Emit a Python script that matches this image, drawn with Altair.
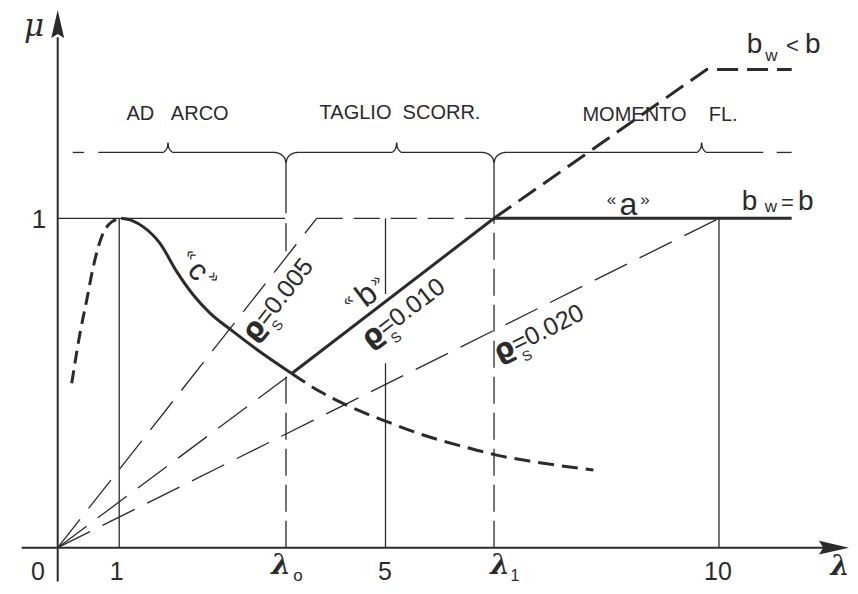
import altair as alt
import numpy as np
import pandas as pd

INK = "#2b2b2b"
SANS = "Liberation Sans"
NB = "\u00a0"

W, H = 842, 578
LAM_DOMAIN = [-0.7516, 11.981]
MU_DOMAIN = [-0.1163, 1.6385]

# ---------------- key abscissae (lambda)
lam_one = 0.93
lam_0 = 3.452
lam_5 = 4.957
lam_1 = 6.598
lam_10 = 10.0
lam_end = 11.099

# ---------------- curve «c»
c_rise_lam = [0.212, 0.337, 0.439, 0.538, 0.665, 0.817, 0.96]
c_rise_mu = [0.499, 0.651, 0.752, 0.853, 0.944, 0.989, 1.0]
c_main_lam = [0.96, 1.124, 1.294, 1.547, 1.800, 2.051, 2.303, 2.655, 3.059, 3.539]
c_main_mu = [1.0, 0.993, 0.974, 0.924, 0.838, 0.767, 0.712, 0.656, 0.595, 0.529]
c_tail_lam = [3.539, 3.966, 4.420, 4.975, 5.529, 6.133, 6.638, 7.192, 8.100]
c_tail_mu = [0.529, 0.474, 0.428, 0.383, 0.342, 0.307, 0.281, 0.261, 0.236]

# ---------------- straight lines
rho005_lam = [0.0, 3.917]
rho005_mu = [0.0, 1.0]
plateau005_lam = [3.917, lam_1]
plateau005_mu = [1.0, 1.0]
rho010_lam = [0.0, 3.539]
rho010_mu = [0.0, 0.529]
b_lam = [3.539, lam_1]
b_mu = [0.529, 1.0]
bw_lam = [lam_1, 9.814, lam_end]
bw_mu = [1.0, 1.452, 1.452]
a_lam = [lam_1, lam_end]
a_mu = [1.0, 1.0]
rho020_lam = [0.0, lam_10]
rho020_mu = [0.0, 1.0]
unit_lam = [0.0, 3.437]
unit_mu = [1.0, 1.0]

# axes extents
x_axis_lam = [-0.545, 11.75]
y_axis_mu = [-0.103, 1.55]

# brace (regions) line
brace_mu = 1.2
brace_start, brace_stop = 0.614, 10.670
brace_up = [1.668, 5.126, 9.738]
brace_down = [lam_0, lam_1]
brace_end_dashes = [(0.227, 0.398), (10.873, lam_end)]

segments = []


def add(name, lams, mus, style):
    for i, (l, m) in enumerate(zip(lams, mus)):
        segments.append({"seg": name, "lam": l, "mu": m, "i": i, "style": style})


add("c_rise", c_rise_lam, c_rise_mu, "thick_rise")
add("c_main", c_main_lam, c_main_mu, "thick_curve")
add("c_tail", c_tail_lam, c_tail_mu, "thick_tail")
add("rho005", rho005_lam, rho005_mu, "thin_dash")
add("plat005", plateau005_lam, plateau005_mu, "thin_dash_h")
add("rho010", rho010_lam, rho010_mu, "thin_dash")
add("b", b_lam, b_mu, "thick")
add("bw", bw_lam, bw_mu, "thick_bw")
add("a", a_lam, a_mu, "thick")
add("rho020", rho020_lam, rho020_mu, "thin_dash")
add("unit", unit_lam, unit_mu, "thin")
add("xaxis", x_axis_lam, [0.0, 0.0], "axis")
add("yaxis", [0.0, 0.0], y_axis_mu, "axis")
# verticals
add("v1", [lam_one, lam_one], [0.0, 1.0], "thin")
add("v5a", [lam_5, lam_5], [0.0, 0.56], "thin")
add("v5b", [lam_5, lam_5], [0.77, 1.0], "thin")
add("v10", [lam_10, lam_10], [0.0, 1.0], "thin")
add("v0a", [lam_0, lam_0], [0.90, 0.985], "thin")
add("v0b", [lam_0, lam_0], [1.015, brace_mu - 0.032], "thin")
add("v0d", [lam_0, lam_0], [0.0, 0.529], "thin_dash_v")
add("v1d", [lam_1, lam_1], [0.0, 1.0], "thin_dash_v")
add("v1s", [lam_1, lam_1], [1.0, brace_mu - 0.032], "thin")

# brace polyline built from the cusp positions
tips = sorted([(p, 1, 0.09, 0.030) for p in brace_up] + [(p, -1, 0.18, 0.032) for p in brace_down])
s = np.linspace(0, 1, 12)
bl, bm = [brace_start], [brace_mu]
for p, d, w, h in tips:
    off = h * (1 - np.sqrt(np.clip(1 - s ** 2, 0, 1)))
    for si, oi in zip(s, off):
        bl.append(p - w * (1 - si)); bm.append(brace_mu + d * oi)
    for si, oi in zip(s[::-1][1:], off[::-1][1:]):
        bl.append(p + w * (1 - si)); bm.append(brace_mu + d * oi)
bl.append(brace_stop); bm.append(brace_mu)
add("brace", bl, bm, "thin")
for k, (l0, l1) in enumerate(brace_end_dashes):
    add(f"brace_end{k}", [l0, l1], [brace_mu, brace_mu], "thin")

seg_df = pd.DataFrame(segments)

STYLES = {
    "thin": (1.3, None, "linear"),
    "axis": (2.0, None, "linear"),
    "thin_dash": (1.3, [36, 14], "linear"),
    "thin_dash_h": (1.3, [26, 11], "linear"),
    "thin_dash_v": (1.3, [27, 9], "linear"),
    "thick": (3.0, None, "linear"),
    "thick_curve": (3.0, None, "monotone"),
    "thick_rise": (3.0, [13, 7], "monotone"),
    "thick_tail": (3.0, [16, 8], "monotone"),
    "thick_bw": (3.0, [21, 9], "linear"),
}

X = alt.X("lam:Q", scale=alt.Scale(domain=LAM_DOMAIN, nice=False, zero=False), axis=None)
Y = alt.Y("mu:Q", scale=alt.Scale(domain=MU_DOMAIN, nice=False, zero=False), axis=None)

layers = []
for style, (sw, dash, interp) in STYLES.items():
    sub = seg_df[seg_df["style"] == style]
    if sub.empty:
        continue
    kw = dict(color=INK, strokeWidth=sw, interpolate=interp, strokeCap="butt")
    if dash:
        kw["strokeDash"] = dash
    layers.append(alt.Chart(sub).mark_line(**kw).encode(x=X, y=Y, detail="seg:N", order="i:Q"))

# arrow heads
ARROW = "M0,-1L0.46,1L0,0.72L-0.46,1Z"
layers.append(alt.Chart(pd.DataFrame({"lam": [0.0], "mu": [1.590]})).mark_point(
    shape=ARROW, size=784, filled=True, color=INK, opacity=1, strokeWidth=0).encode(x=X, y=Y))
layers.append(alt.Chart(pd.DataFrame({"lam": [11.739], "mu": [0.0]})).mark_point(
    shape=ARROW, size=900, angle=90, filled=True, color=INK, opacity=1, strokeWidth=0).encode(x=X, y=Y))


def txt(rows, **kw):
    df = pd.DataFrame(rows, columns=["t", "lam", "mu"])
    base = dict(color=INK, font=SANS, align="center", baseline="middle")
    base.update(kw)
    layers.append(alt.Chart(df).mark_text(**base).encode(x=X, y=Y, text="t:N"))


# tick labels
tick_text = ["0", "1", "5", "10"]
tick_lam = [-0.298, 0.892, 4.949, 9.985]
txt([(t, l, -0.0738) for t, l in zip(tick_text, tick_lam)], fontSize=25)
txt([("1", -0.283, 0.9948)], fontSize=26)
# lambda labels
txt([("λ", 3.378, -0.056), ("λ", 6.688, -0.056)],
    font="DejaVu Serif", fontStyle="italic", fontWeight="bold", fontSize=28)
txt([("λ", 11.83, -0.060)],
    font="DejaVu Serif", fontStyle="italic", fontWeight="bold", fontSize=27)
txt([("o", 3.634, -0.086)], fontSize=17)
txt([("1", 6.915, -0.086)], fontSize=16)
txt([("μ", -0.358, 1.581)], font="DejaVu Serif", fontStyle="italic", fontSize=31)

# regions
region_text = [f"AD{NB*3}ARCO", f"TAGLIO{NB*2}SCORR.", f"MOMENTO{NB*4}FL."]
region_lam = [1.812, 5.176, 9.108]
region_mu = [1.318, 1.320, 1.314]
txt(list(zip(region_text, region_lam, region_mu)), fontSize=20)

# b_w labels
txt([("b", 10.419, 1.5018), ("b", 11.300, 1.5018), ("b", 10.343, 1.0252), ("b", 11.194, 1.0252)],
    align="left", baseline="alphabetic", fontSize=28)
txt([("w", 10.70, 1.4775), ("w", 10.69, 1.0191)], align="left", baseline="alphabetic", fontSize=17)
txt([("<", 11.013, 1.5018), ("=", 10.937, 1.0252)], align="left", baseline="alphabetic", fontSize=22)

# «a»
txt([("a", 8.631, 1.010)], baseline="alphabetic", fontSize=32)
txt([("«", 8.374, 1.0556), ("»", 8.881, 1.0556)], fontSize=17)

# «b» (rotated along the b line)
txt([("b", 4.670, 0.7672)], angle=322.7, fontSize=32)
txt([("«", 4.670, 0.7672)], angle=322.7, fontSize=17, dx=-18, dy=-7)
txt([("»", 4.670, 0.7672)], angle=322.7, fontSize=17, dx=16, dy=-6)

# «c»
txt([("c", 2.122, 0.840)], angle=48, fontSize=30)
txt([("«", 2.122, 0.840)], angle=48, fontSize=17, dx=-17, dy=-6)
txt([("»", 2.122, 0.840)], angle=48, fontSize=17, dx=15, dy=-8)

# ρs labels
rho_values = ["=0.005", "=0.010", "=0.020"]
rho_anchor_lam = [2.878, 4.641, 6.617]
rho_anchor_mu = [0.6366, 0.6236, 0.5862]
rho_angle = [308.2, 322.7, 333.5]
for v, l, m, a in zip(rho_values, rho_anchor_lam, rho_anchor_mu, rho_angle):
    txt([("ϱ", l, m)], angle=a, align="left", font="DejaVu Sans", fontWeight="bold", fontSize=28)
    txt([(v, l, m)], angle=a, align="left", fontSize=25, dx=20)
    txt([("S", l, m)], angle=a, fontSize=14, dx=28, dy=16)

chart = alt.layer(*layers).properties(
    width=W, height=H, padding=0,
    autosize=alt.AutoSizeParams(type="none"),
    background="white",
).configure_view(stroke=None)

chart.save("out.html", embed_options={"renderer": "svg", "actions": False})
